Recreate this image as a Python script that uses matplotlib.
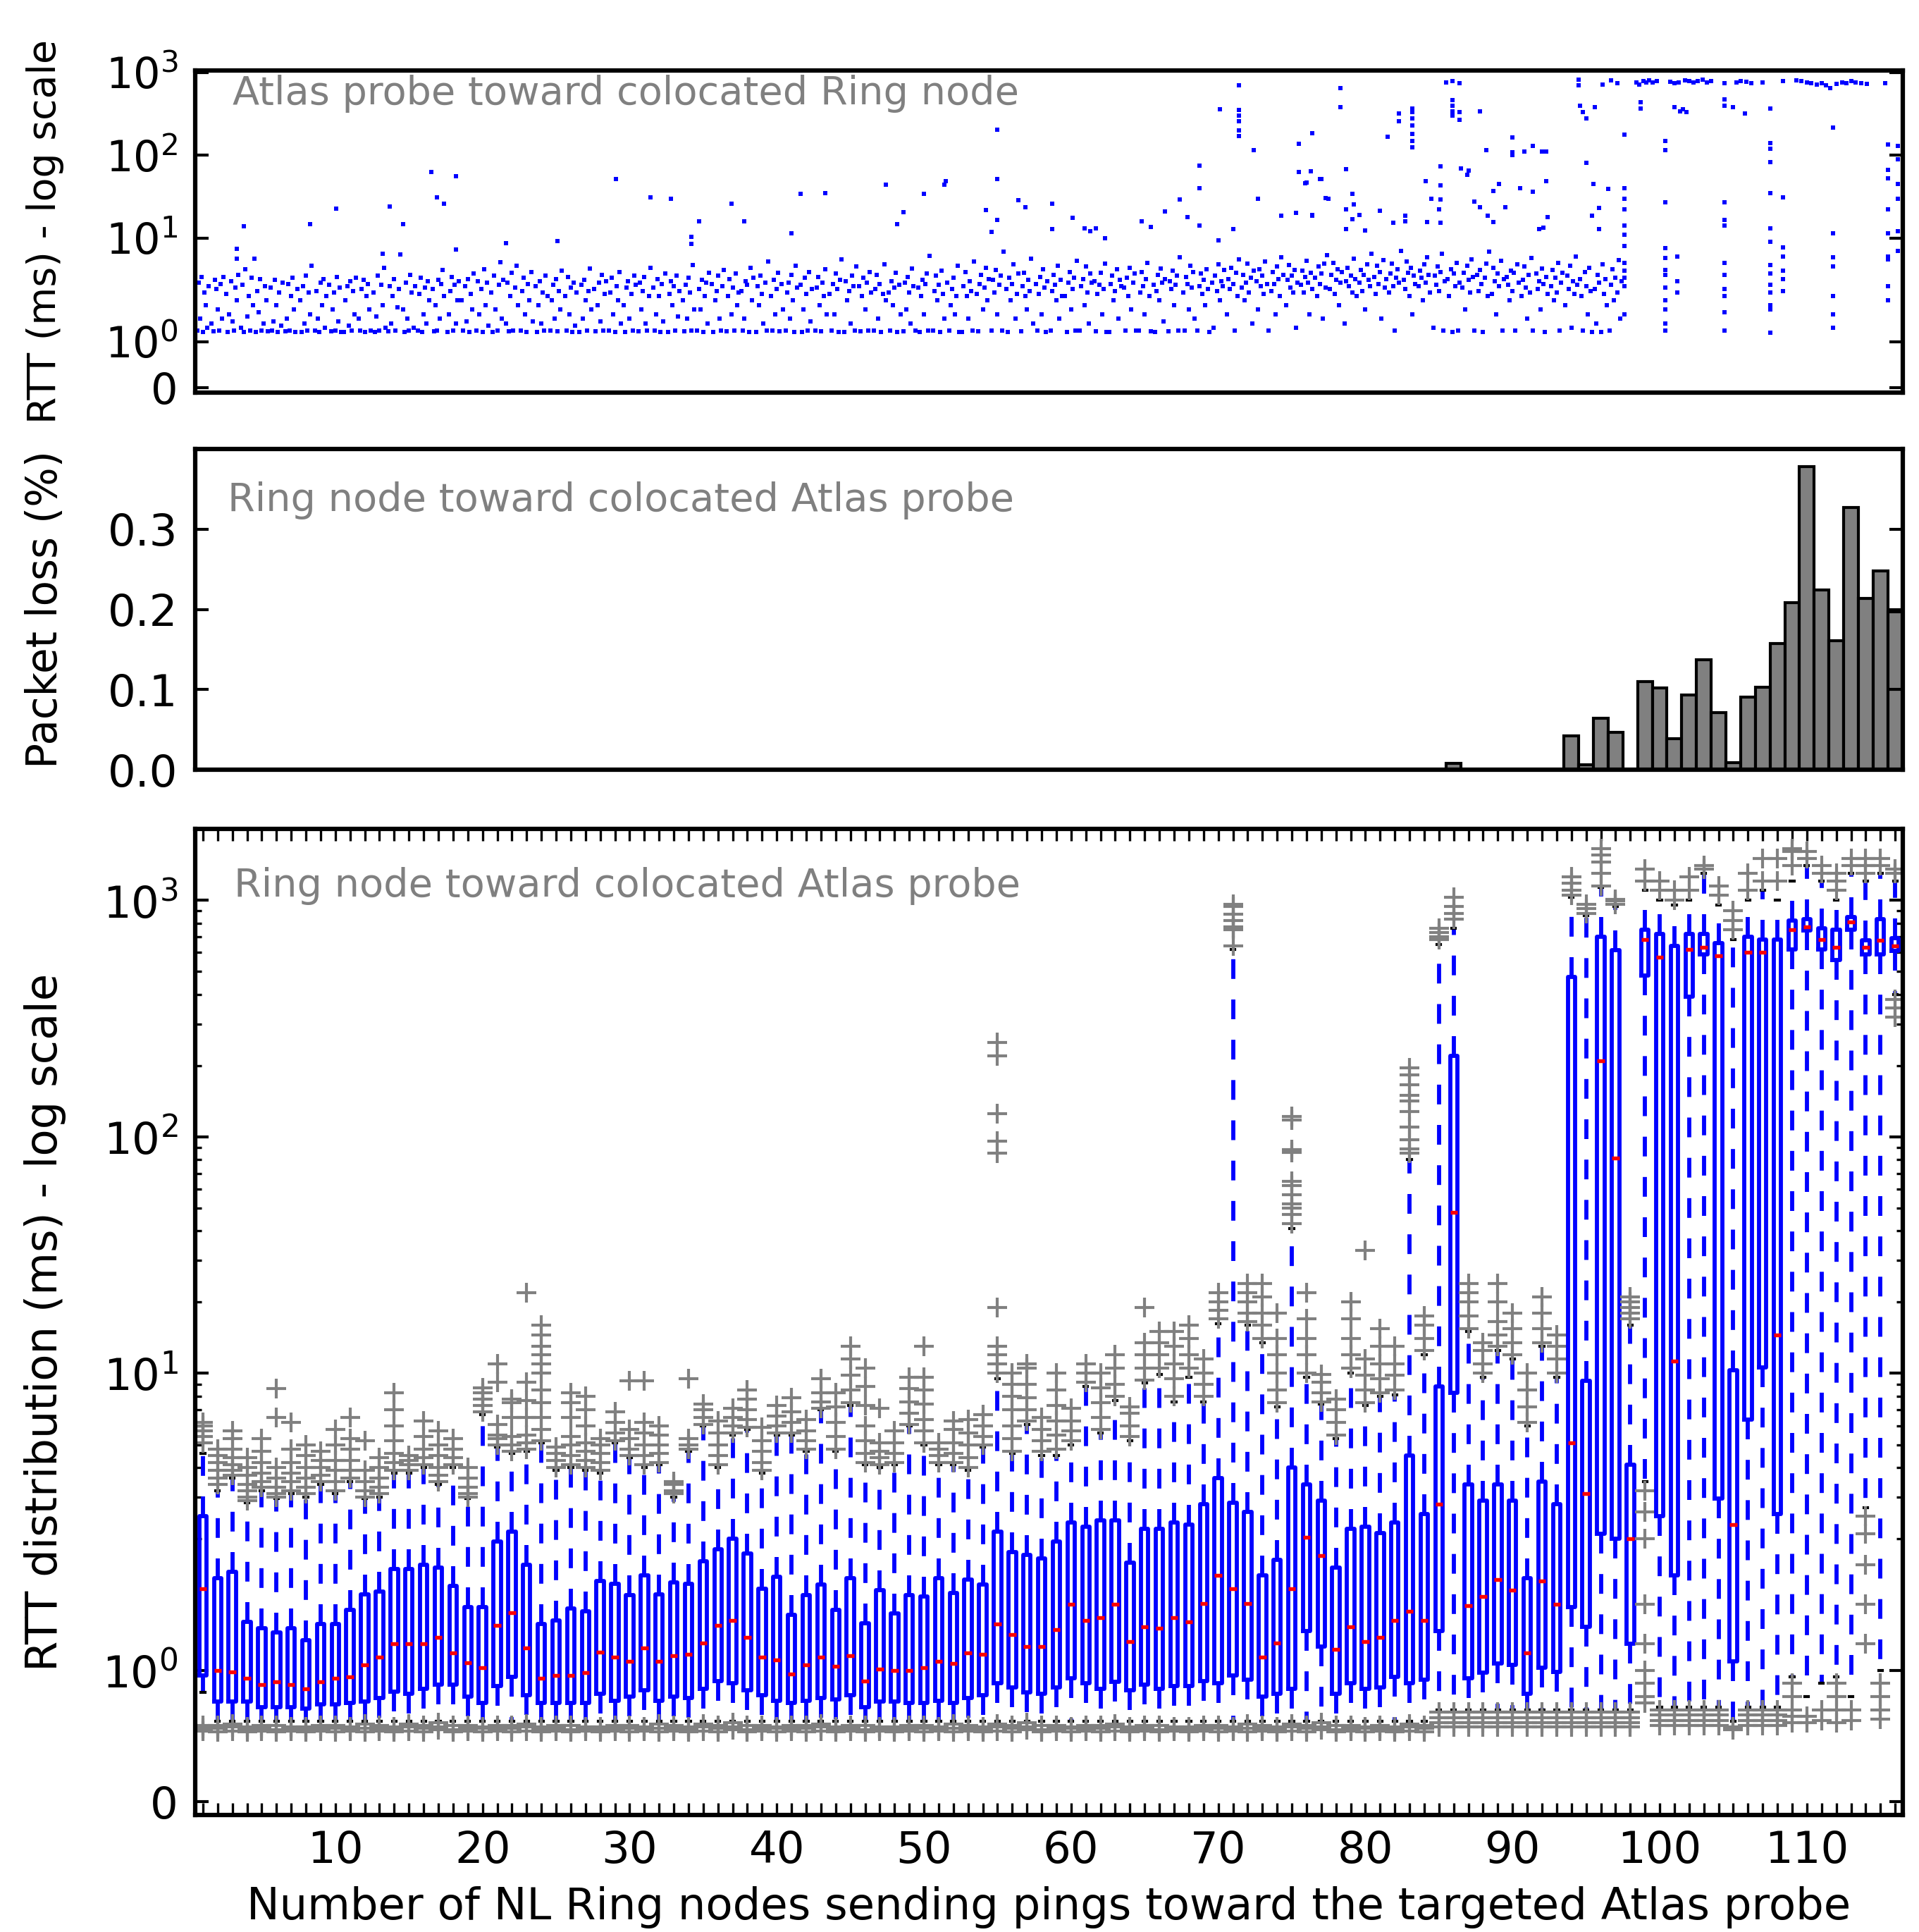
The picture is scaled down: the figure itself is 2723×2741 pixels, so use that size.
import matplotlib
matplotlib.use('Agg')
import matplotlib.pyplot as plt

# ---------------- top panel: Atlas probe -> Ring node RTT (ms) ----------------
# dense band, one list per node count 1..97
band_cols = [
    [1.25, 2.9, 1.5, 3.4, 1.22, 2.2, 1.8, 1.3, 2.6],
    [1.4, 1.23, 3.1, 2.4, 1.7, 1.25, 2.8, 1.5, 3.4],
    [2.1, 1.22, 1.6, 3.0, 1.45, 1.24, 2.5, 1.9, 3.6],
    [1.3, 2.7, 1.22, 4.2, 1.55, 2.0, 1.25, 3.3, 1.8],
    [1.22, 2.3, 1.65, 3.2, 1.25, 1.4, 2.6, 1.9, 1.23],
    [2.5, 1.24, 1.45, 3.1, 1.8, 1.22, 2.2, 1.35, 2.9],
    [1.23, 1.5, 2.8, 1.25, 2.0, 3.3, 1.7, 1.22, 2.4],
    [1.9, 1.22, 2.6, 1.4, 3.5, 1.25, 2.2, 1.6, 4.6],
    [1.24, 2.3, 1.5, 1.22, 2.9, 1.8, 3.2, 1.3, 2.0],
    [2.7, 1.23, 1.7, 2.2, 1.25, 3.4, 1.45, 2.5, 1.22],
    [1.22, 1.9, 2.6, 1.35, 3.0, 1.25, 2.3, 1.6, 3.3],
    [1.5, 1.24, 2.4, 3.1, 1.22, 2.0, 2.8, 1.7, 1.25],
    [2.2, 1.22, 1.55, 3.5, 1.25, 2.7, 1.8, 4.4, 1.3],
    [1.23, 2.6, 1.4, 2.0, 3.2, 1.25, 1.75, 2.4, 6.3],
    [1.7, 1.22, 2.9, 1.5, 1.24, 3.6, 2.2, 1.3, 2.6],
    [1.25, 2.1, 3.3, 1.22, 1.6, 2.5, 1.4, 3.0, 1.9],
    [2.4, 1.23, 1.8, 1.25, 3.1, 1.5, 2.8, 4.1, 2.0],
    [1.22, 1.6, 2.3, 3.4, 1.25, 2.7, 1.4, 1.9, 3.0],
    [1.9, 1.24, 2.6, 1.45, 3.2, 1.22, 2.1, 1.7, 3.7],
    [1.25, 3.0, 1.6, 2.4, 1.22, 4.2, 1.8, 2.9, 1.35],
    [2.2, 1.22, 3.5, 1.7, 1.24, 2.7, 5.1, 1.5, 3.1],
    [1.4, 2.9, 1.23, 2.0, 3.8, 1.25, 2.5, 4.6, 1.8],
    [1.24, 2.3, 3.3, 1.6, 1.22, 2.8, 1.9, 3.9, 1.45],
    [2.6, 1.22, 1.8, 3.0, 1.4, 2.2, 1.25, 3.5, 2.0],
    [1.25, 1.9, 2.7, 1.5, 3.2, 1.23, 2.3, 1.7, 4.0],
    [2.0, 1.24, 3.4, 1.6, 2.5, 1.22, 2.9, 1.35, 2.2],
    [1.22, 2.7, 1.5, 3.1, 1.9, 1.25, 2.3, 4.3, 1.7],
    [2.4, 1.23, 1.8, 2.9, 1.45, 3.6, 1.25, 2.1, 3.0],
    [1.25, 2.2, 3.3, 1.6, 1.22, 2.6, 1.9, 3.9, 1.4],
    [1.8, 1.22, 2.5, 3.0, 1.5, 2.1, 1.24, 3.5, 2.7],
    [1.23, 2.9, 1.7, 2.3, 3.4, 1.4, 1.25, 2.0, 4.4],
    [2.5, 1.25, 1.6, 3.2, 2.0, 1.22, 2.8, 1.45, 3.7],
    [1.22, 2.1, 3.0, 1.8, 2.6, 1.24, 3.5, 1.55, 2.3],
    [1.9, 1.23, 2.7, 1.5, 3.3, 2.2, 1.25, 4.7, 1.7],
    [1.25, 2.4, 1.7, 3.1, 1.22, 2.0, 2.9, 1.4, 3.8],
    [2.8, 1.22, 1.9, 2.3, 3.5, 1.5, 1.24, 2.6, 4.1],
    [1.23, 2.0, 3.2, 1.6, 2.5, 1.25, 3.7, 1.8, 2.2],
    [2.3, 1.24, 1.5, 3.0, 2.7, 1.22, 4.4, 1.9, 3.3],
    [1.22, 2.6, 1.8, 3.5, 2.1, 1.4, 2.9, 1.25, 5.2],
    [2.0, 1.25, 3.1, 1.6, 2.4, 3.8, 1.23, 2.8, 1.7],
    [1.24, 2.2, 2.9, 1.5, 3.6, 1.9, 1.22, 4.6, 2.5],
    [2.7, 1.22, 1.7, 3.3, 2.1, 1.25, 3.9, 1.45, 2.4],
    [1.25, 2.5, 3.4, 1.8, 1.23, 2.9, 2.0, 4.2, 1.6],
    [2.1, 1.24, 2.8, 1.6, 3.7, 2.4, 1.22, 3.1, 5.5],
    [1.22, 3.0, 1.9, 2.3, 1.4, 3.5, 2.6, 1.25, 4.5],
    [2.6, 1.23, 2.0, 3.3, 1.7, 2.9, 1.25, 3.9, 2.2],
    [1.25, 2.4, 3.6, 1.5, 2.8, 1.22, 2.1, 4.8, 1.9],
    [2.2, 1.24, 3.0, 1.8, 2.5, 3.8, 1.22, 2.7, 1.6],
    [1.23, 2.9, 1.7, 3.4, 2.2, 1.4, 4.3, 2.6, 1.25],
    [2.5, 1.22, 2.0, 3.1, 1.6, 2.8, 3.7, 1.25, 6.1],
    [1.24, 2.3, 3.5, 1.9, 2.7, 1.22, 4.0, 2.1, 1.5],
    [2.9, 1.25, 1.8, 2.4, 3.3, 1.6, 2.0, 4.6, 1.22],
    [1.22, 2.6, 3.9, 2.0, 1.5, 3.0, 2.3, 1.25, 5.2],
    [2.1, 1.23, 2.8, 3.6, 1.7, 2.5, 4.4, 1.9, 3.2],
    [1.25, 3.1, 2.2, 4.1, 1.6, 2.7, 3.5, 1.24, 6.8],
    [2.4, 1.22, 3.3, 1.9, 2.8, 4.8, 1.5, 2.1, 3.7],
    [1.23, 2.6, 3.8, 2.0, 1.7, 3.1, 2.3, 5.6, 1.4],
    [2.8, 1.25, 2.1, 3.4, 1.6, 4.2, 2.5, 1.22, 3.0],
    [1.24, 2.3, 3.6, 2.7, 1.9, 4.6, 1.5, 3.1, 2.0],
    [2.0, 1.22, 2.9, 3.9, 1.7, 2.4, 3.3, 1.25, 5.3],
    [1.25, 2.6, 3.2, 1.8, 4.5, 2.2, 1.4, 3.7, 2.9],
    [3.0, 1.23, 2.1, 2.7, 3.8, 1.6, 2.4, 4.9, 1.22],
    [1.22, 2.8, 3.5, 1.9, 2.3, 4.2, 1.5, 3.1, 2.6],
    [2.5, 1.24, 3.3, 2.0, 4.4, 1.7, 2.9, 3.7, 1.25],
    [1.25, 2.2, 3.9, 2.6, 1.6, 3.2, 5.0, 2.0, 1.23],
    [2.7, 1.22, 2.3, 3.6, 1.9, 4.3, 2.9, 1.45, 3.2],
    [1.23, 3.0, 2.4, 4.0, 1.8, 2.7, 3.5, 1.25, 5.9],
    [2.2, 1.25, 3.4, 2.8, 1.7, 4.6, 2.5, 3.9, 1.5],
    [1.24, 2.6, 3.7, 2.1, 3.1, 1.8, 4.2, 2.4, 1.22],
    [2.9, 1.3, 3.5, 2.3, 4.8, 1.9, 3.0, 2.6, 4.1],
    [1.6, 3.2, 2.4, 4.4, 2.8, 1.25, 3.8, 2.0, 5.5],
    [2.5, 3.6, 1.9, 2.9, 4.9, 2.2, 3.3, 1.4, 4.0],
    [3.0, 1.7, 4.2, 2.6, 3.5, 2.1, 5.2, 2.8, 1.25],
    [2.3, 3.9, 2.8, 1.6, 4.5, 3.2, 2.0, 5.8, 3.6],
    [1.8, 3.1, 4.7, 2.5, 3.5, 2.2, 4.1, 1.3, 2.9],
    [2.7, 4.0, 2.2, 3.4, 5.3, 2.9, 1.6, 3.8, 2.4],
    [3.3, 2.0, 4.5, 2.8, 3.7, 1.5, 4.9, 2.5, 6.2],
    [2.4, 3.6, 5.0, 2.1, 3.1, 4.2, 1.8, 2.9, 3.9],
    [1.4, 3.0, 4.4, 2.6, 3.5, 2.2, 5.6, 3.2, 2.0],
    [2.9, 4.1, 2.3, 3.6, 1.7, 4.8, 3.1, 2.6, 6.5],
    [3.4, 2.1, 4.6, 2.8, 3.9, 1.5, 5.4, 2.5, 3.2],
    [2.2, 3.7, 4.9, 2.6, 1.25, 3.3, 4.2, 2.9, 7.0],
    [3.1, 2.4, 5.2, 3.8, 2.0, 4.4, 1.6, 3.5, 2.8],
    [2.6, 4.0, 3.3, 1.9, 4.8, 2.9, 5.9, 3.6, 2.2],
    [1.3, 3.5, 2.7, 4.5, 2.3, 3.9, 6.4, 1.25, 3.0],
    [3.2, 2.0, 4.2, 1.22, 3.7, 2.6, 5.0, 1.24, 2.9],
    [2.5, 3.8, 1.7, 4.6, 3.1, 2.2, 5.5, 3.4, 1.25],
    [3.6, 2.3, 4.1, 2.8, 1.22, 3.3, 4.9, 2.0, 6.8],
    [2.1, 4.4, 3.0, 1.6, 3.7, 2.6, 5.3, 1.25, 3.2],
    [3.4, 2.7, 1.9, 4.0, 2.3, 3.8, 1.24, 4.8, 2.9],
    [2.0, 3.1, 4.5, 2.5, 1.5, 3.6, 2.2, 5.7, 1.25],
    [3.7, 2.4, 3.0, 1.7, 4.3, 2.8, 1.22, 3.4, 2.1],
    [2.6, 4.1, 1.9, 3.3, 2.2, 5.0, 1.25, 2.9, 3.8],
    [1.8, 3.5, 2.4, 4.6, 1.3, 3.0, 2.1, 6.0, 2.7],
    [3.2, 2.0, 1.25, 3.9, 2.6, 1.6, 4.4, 2.3, 1.22],
    [2.4, 1.4, 3.6, 2.9, 1.22, 4.8, 2.1, 3.2, 1.8],
    [1.25, 2.7, 4.2, 1.9, 3.3, 2.2, 5.4, 1.5, 3.0],
]

# isolated vertical columns of samples at the right end
sparse_x = [97.6, 100.4, 101.2, 104.4, 107.5, 108.4, 111.8, 115.5, 116.2]
sparse_y = [
    [176, 40, 30, 22, 14, 11, 8, 5, 4, 3.3, 2.6, 1.6],
    [150, 115, 27, 7.5, 5.7, 4.1, 3.6, 2.5, 1.9, 1.7, 1.4, 1.25],
    [3.0, 6.0, 2.2],
    [470, 400, 27, 16.5, 14, 5, 3.6, 2.4, 2.0, 1.65, 1.25],
    [370, 140, 120, 83, 35, 13, 9, 4.7, 3.7, 2.7, 2.2, 1.8, 1.7, 1.2],
    [31, 7.7, 6, 4, 3.2, 2.3],
    [215, 11.5, 5.9, 4.5, 2, 1.6, 1.3],
    [135, 66, 53, 22, 11.5, 6, 5.5, 2.6, 1.9],
    [130, 90, 45, 30, 12, 7],
]

# scattered high samples (node count, RTT ms)
out_x = [3.8, 3.3, 3.3, 4.5, 8.3, 10.05, 13.7, 14.6, 16.5, 16.9, 17.4, 18.2, 18.2, 13.2, 21.6,
         25.1, 29.05, 31.4, 32.8, 34.7, 34.2, 34.2, 36.9, 37.8, 41.0, 41.6, 43.3, 47.4, 48.2, 48.6,
         50.0, 51.5, 51.4, 55.0, 55.0, 55.0, 54.6, 54.2, 56.4, 56.9, 58.7, 58.7, 68.7, 68.7, 70.1,
         71.4, 71.4, 71.4, 71.4, 71.4, 71.4, 72.4, 70.0, 75.5, 76.4, 75.5, 76.0, 77.0, 72.7, 74.3,
         75.3, 76.4, 77.5, 66.4, 67.4, 67.9, 71.0, 68.7, 64.8, 65.4, 60.1, 60.9, 61.3, 61.7, 62.3,
         78.3, 78.3, 82.3, 82.3, 83.2, 83.2, 83.2, 83.2, 83.2, 83.2, 83.2, 85.9, 85.9, 85.9, 85.9,
         86.4, 86.4, 87.8, 81.5, 88.2, 90.0, 90.0, 90.0, 90.8, 91.4, 92.0, 92.3, 95.0, 94.6, 94.8,
         95.0, 95.6, 98.7, 98.7, 101.0, 101.4, 101.8, 101.6, 105.0, 105.8,
         76.3, 76.9, 75.9, 78.7, 77.3, 79.1, 79.2, 78.7, 79.6, 79.1, 76.4, 78.7, 80.0, 81.0, 81.9,
         82.7, 82.7, 84.1, 85.1, 85.1, 84.5, 85.1, 85.0, 85.1, 84.2, 86.5, 87.0, 86.9, 87.4, 87.8,
         88.3, 88.7, 89.1, 88.7, 89.5, 90.5, 91.4, 92.3, 92.4, 92.1, 91.8, 95.5, 96.5, 95.4, 95.9,
         95.9]
out_y = [13.9, 7.4, 5.6, 5.6, 14.6, 22.7, 24.1, 14.6, 63, 31, 26, 56, 7.3, 6.5, 8.6,
         9.2, 52, 31, 30, 16, 10.3, 8.5, 26, 16, 11.3, 34, 35, 44, 14.6, 20.4,
         34, 49, 44, 203, 52, 16.5, 11.9, 21.6, 28.4, 23.7, 26, 12.7, 75, 40, 358,
         698, 350, 300, 260, 200, 170, 116, 9.3, 138, 183, 63, 47, 52, 30, 18.6,
         20, 19, 30, 21, 29, 18, 12.7, 14, 16, 13.5, 17.5, 13, 12, 13, 10,
         653, 378, 320, 260, 370, 330, 280, 230, 180, 150, 125, 460, 400, 340, 300,
         330, 270, 340, 166, 115, 165, 108, 100, 110, 130, 110, 110, 81, 400, 330,
         280, 380, 440, 370, 380, 340, 330, 360, 380, 320,
         64, 52, 46, 68, 30.6, 34, 25.6, 22, 19, 16.9, 18.5, 12.7, 12.3, 21.5, 15.3,
         18.5, 16, 49, 73, 43, 29.5, 29, 22, 15.3, 15.6, 69, 65, 58, 27.6, 23.5,
         18.5, 15.6, 44.6, 37, 23.5, 40, 36.5, 49, 18, 13.4, 12.9, 45, 39, 18.5, 23,
         12.9]

# samples near the 1 s ceiling
ceil_x = [85.5, 85.9, 86.4, 94.5, 94.5, 96.1, 96.7, 97.1, 98.4, 98.6, 98.9, 99.1, 99.3, 99.5,
          99.8, 100.7, 101.0, 101.3, 101.7, 102.0, 102.3, 102.6, 102.9, 103.2, 103.5, 104.4,
          105.2, 105.5, 105.9, 106.2, 107.0, 108.4, 109.3, 109.6, 110.0, 110.3, 110.7, 111.0,
          111.3, 111.6, 112.0, 112.4, 112.7, 113.0, 113.3, 113.7, 114.1, 115.3]
ceil_y = [760, 780, 740, 820, 700, 720, 800, 740, 750, 720, 780, 760, 800, 760,
          790, 770, 740, 760, 800, 780, 750, 790, 820, 760, 790, 740,
          760, 790, 770, 740, 750, 790, 800, 780, 760, 740, 720, 740,
          700, 650, 730, 760, 740, 780, 760, 740, 730, 740]

# ---------------- middle panel: packet loss ----------------
loss_nodes = [86, 94, 95, 96, 97, 99, 100, 101, 102, 103, 104, 105, 106, 107, 108, 109, 110,
              111, 112, 113, 114, 115, 116]
loss_pct = [0.008, 0.042, 0.006, 0.064, 0.047, 0.110, 0.102, 0.039, 0.093, 0.137, 0.071, 0.009,
            0.091, 0.103, 0.157, 0.208, 0.378, 0.224, 0.161, 0.327, 0.214, 0.248, 0.197]

# ---------------- bottom panel: RTT distribution per node count ----------------
nodes = list(range(1, 117))
box_q3 = [2.5, 1.7, 1.75, 1.37, 1.32, 1.29, 1.32, 1.23, 1.35, 1.35,
          1.46, 1.58, 1.6, 1.77, 1.77, 1.8, 1.78, 1.64, 1.48, 1.48,
          1.98, 2.15, 1.8, 1.35, 1.38, 1.47, 1.45, 1.68, 1.66, 1.57,
          1.72, 1.58, 1.67, 1.66, 1.83, 1.92, 2.0, 1.89, 1.62, 1.71,
          1.42, 1.57, 1.65, 1.46, 1.7, 1.36, 1.61, 1.43, 1.57, 1.56,
          1.7, 1.59, 1.69, 1.65, 2.15, 1.9, 1.88, 1.85, 1.98, 2.35,
          2.25, 2.4, 2.4, 1.82, 2.2, 2.2, 2.35, 2.3, 2.8, 3.6,
          2.85, 2.6, 1.72, 1.84, 4.0, 3.4, 2.9, 1.78, 2.2, 2.25,
          2.12, 2.35, 4.5, 2.55, 8.8, 220, 3.4, 2.9, 3.4, 2.9,
          1.7, 3.5, 2.8, 475, 9.3, 700, 615, 4.1, 750, 720,
          640, 720, 720, 660, 10.3, 700, 680, 680, 820, 830,
          760, 750, 850, 675, 830, 690]
box_med = [1.62, 1.0, 0.99, 0.94, 0.89, 0.91, 0.89, 0.86, 0.91, 0.94,
           0.95, 1.04, 1.1, 1.2, 1.2, 1.2, 1.25, 1.13, 1.06, 1.02,
           1.34, 1.44, 1.17, 0.94, 0.96, 0.96, 0.98, 1.14, 1.1, 1.07,
           1.17, 1.07, 1.11, 1.12, 1.21, 1.34, 1.38, 1.25, 1.1, 1.08,
           0.97, 1.04, 1.1, 1.03, 1.11, 0.92, 1.01, 1.0, 1.0, 1.02,
           1.07, 1.05, 1.13, 1.12, 1.35, 1.27, 1.18, 1.18, 1.31, 1.5,
           1.38, 1.4, 1.5, 1.22, 1.33, 1.32, 1.4, 1.37, 1.51, 1.72,
           1.62, 1.51, 1.1, 1.21, 1.62, 2.03, 1.87, 1.16, 1.33, 1.22,
           1.25, 1.38, 1.45, 1.38, 2.8, 48, 1.49, 1.56, 1.69, 1.61,
           1.13, 1.68, 1.5, 5.1, 3.1, 210, 81, 2.0, 682, 575,
           11.3, 620, 630, 580, 2.3, 600, 600, 14.5, 750, 770,
           680, 630, 810, 630, 675, 640]
box_q1 = [0.96, 0.76, 0.76, 0.76, 0.72, 0.72, 0.72, 0.71, 0.74, 0.74,
          0.75, 0.76, 0.79, 0.84, 0.82, 0.86, 0.89, 0.89, 0.8, 0.75,
          0.88, 0.95, 0.81, 0.75, 0.75, 0.75, 0.75, 0.82, 0.77, 0.8,
          0.85, 0.77, 0.8, 0.79, 0.86, 0.92, 0.9, 0.85, 0.81, 0.77,
          0.75, 0.77, 0.79, 0.78, 0.81, 0.72, 0.76, 0.76, 0.75, 0.75,
          0.77, 0.75, 0.79, 0.81, 0.9, 0.87, 0.83, 0.82, 0.87, 0.94,
          0.9, 0.86, 0.91, 0.85, 0.89, 0.86, 0.88, 0.88, 0.92, 0.9,
          0.96, 0.93, 0.8, 0.82, 0.86, 1.3, 1.18, 0.82, 0.9, 0.86,
          0.87, 0.95, 0.9, 0.93, 1.3, 8.3, 0.94, 0.98, 1.05, 1.04,
          0.82, 1.02, 0.99, 1.48, 1.33, 2.1, 2.0, 1.2, 480, 2.5,
          1.72, 390, 590, 2.95, 1.07, 6.4, 10.6, 2.55, 620, 745,
          620, 560, 750, 590, 590, 610]
box_wlo = [0.83] + [0.61] * 83 + [0.7] * 14 + [3.5, 0.72, 0.72, 0.72, 0.72, 0.72, 0.61, 0.72,
                                                0.72, 0.72, 0.95, 0.8, 0.9, 0.95, 0.8, 2.7, 1.0, 400]
box_whi = [4.6, 3.2, 3.6, 2.85, 3.2, 2.95, 3.1, 3.0, 3.4, 3.1,
           3.5, 2.95, 3.0, 3.8, 3.8, 4.0, 3.4, 4.0, 2.95, 6.7,
           4.9, 4.6, 4.7, 5.1, 3.9, 4.0, 3.9, 3.8, 5.1, 4.4,
           4.0, 4.1, 3.0, 4.7, 6.0, 4.0, 5.5, 5.8, 3.8, 5.5,
           5.5, 4.7, 7.0, 4.7, 7.3, 4.1, 4.0, 4.1, 6.0, 5.0,
           4.1, 4.1, 3.9, 4.9, 9.5, 4.6, 6.1, 4.5, 4.5, 5.0,
           8.8, 5.6, 7.7, 5.2, 9.1, 9.9, 7.6, 9.6, 7.6, 16.2,
           620, 16, 13.5, 7.2, 41, 9.6, 7.4, 5.3, 10, 7.3,
           8, 8.1, 80, 12, 650, 760, 15, 9.6, 12.5, 11.5,
           6, 13, 9.6, 1030, 860, 1130, 940, 16, 1100, 1000,
           950, 1000, 1300, 950, 680, 1000, 1100, 1000, 1200, 1400,
           1200, 1000, 1300, 1200, 1300, 1200]
fl_hi = [
    [5.1, 5.4, 5.7, 6.0, 6.2], [3.4, 3.6, 3.9, 4.2, 4.5, 4.8], [3.7, 3.9, 4.1, 4.4, 4.8, 5.3, 5.7],
    [2.9, 3.0, 3.2, 3.4, 3.7, 4.0, 4.4], [3.3, 3.5, 3.8, 4.2, 4.7, 5.3], [3.0, 3.1, 3.3, 3.6, 4.0, 6.5, 8.6],
    [3.2, 3.5, 3.8, 4.2, 4.8, 6.2], [3.1, 3.3, 3.6, 4.0, 4.5, 5.0], [3.5, 3.7, 4.0, 4.3, 4.7],
    [3.2, 3.5, 3.9, 4.3, 5.0, 5.8], [3.6, 3.9, 4.3, 4.8, 5.3, 6.5], [3.0, 3.2, 3.5, 3.9, 5.2],
    [3.1, 3.3, 3.6, 4.0, 4.4], [3.9, 4.2, 4.6, 5.2, 6.0, 7.0, 8.3], [3.9, 4.1, 4.3, 4.5],
    [4.1, 4.4, 4.8, 5.4, 6.3], [3.5, 3.7, 4.0, 4.5, 5.0, 5.7], [4.1, 4.4, 4.8, 5.3],
    [3.0, 3.1, 3.3, 3.6, 4.0], [6.9, 7.3, 7.8, 8.3, 8.7], [5.0, 5.3, 5.5, 6.1, 9.2, 11.0],
    [4.7, 5.0, 5.4, 6.5, 7.5, 7.8], [4.8, 5.1, 5.5, 6.5, 7.7, 9.2, 22],
    [5.2, 5.8, 6.5, 7.5, 8.5, 10, 11, 12, 13, 14.5, 16], [4.0, 4.3, 4.6, 4.9],
    [4.1, 4.5, 5.0, 5.4, 6.5, 7.5, 8.3], [4.0, 4.3, 4.7, 5.1, 6.0, 7.0, 8.0], [3.9, 4.2, 4.6, 5.0, 5.3],
    [5.2, 5.6, 6.2, 6.9], [4.5, 4.8, 5.3, 5.8, 9.3], [4.1, 4.5, 5.0, 5.6, 6.2, 9.3],
    [4.2, 4.6, 5.0, 5.5, 6.0], [3.1, 3.2, 3.4, 3.5], [4.8, 5.0, 5.3, 9.5], [6.1, 6.5, 7.0, 7.4],
    [4.1, 4.5, 5.0, 5.6, 6.3], [5.6, 6.0, 6.5, 7.1], [5.9, 6.4, 7.0, 7.8, 8.5],
    [3.9, 4.2, 4.7, 5.2, 5.9], [5.6, 6.0, 6.6, 7.3], [5.6, 6.2, 6.9, 7.9], [4.8, 5.2, 5.7, 6.4],
    [7.1, 7.6, 8.3, 9.5], [4.8, 5.4, 6.2, 7.2, 8.3], [7.5, 8.5, 9.8, 11.5, 13],
    [4.2, 4.6, 5.2, 6.0, 7.3, 8.8, 10.5], [4.1, 4.4, 4.7, 5.1, 7.1], [4.2, 4.6, 5.1, 5.7],
    [6.1, 6.8, 7.6, 8.6, 9.6], [5.1, 5.7, 6.4, 7.4, 8.5, 9.6, 13], [4.2, 4.5, 4.8, 5.1],
    [4.2, 4.6, 5.1, 5.8, 6.3], [4.0, 4.4, 5.0, 5.6, 6.4], [5.0, 5.4, 6.0, 6.7],
    [10, 11, 12, 13, 19, 85, 96, 125, 220, 250], [4.7, 5.3, 6.0, 7.0, 8.0, 9.0, 10],
    [6.3, 7.0, 7.9, 9.0, 10.5, 11], [4.7, 5.2, 5.8, 6.5], [4.8, 5.5, 6.3, 7.3, 8.5, 10],
    [5.2, 5.7, 6.3, 7.1], [9.2, 10, 11], [5.8, 6.5, 7.5, 8.7, 10], [8, 9, 10.5, 12],
    [5.4, 6.0, 6.8, 7.2], [9.4, 10.5, 12, 13.5, 19], [10.5, 12, 13.5, 15], [8, 9.5, 11, 13, 15],
    [10.5, 12, 14, 16], [8, 9, 10, 11.5], [17, 18.5, 20, 22],
    [640, 750, 760, 770, 820, 870, 940, 960], [16.5, 18, 20, 22, 24], [14, 16, 18, 21, 24],
    [7.5, 8.5, 10, 12, 14, 18], [43, 47, 50, 52, 57, 62, 65, 86, 88, 118, 122],
    [10, 12, 14, 17, 22], [7.6, 8.3, 9.2, 9.9], [5.5, 6.2, 7.0, 7.8], [10.5, 12, 14, 17, 20],
    [7.5, 8.5, 9.8, 11.5, 33], [8.3, 9.5, 11, 13, 15.5], [8.5, 9.8, 11, 13],
    [85, 89, 97, 110, 128, 142, 150, 166, 183, 196], [12.5, 14, 16, 17.5], [680, 700, 730, 760],
    [830, 880, 940, 1030], [15.5, 17.5, 20, 22, 24], [10, 11, 12.5, 13.5], [13, 14.5, 16.5, 20, 24],
    [12, 13.5, 15.5, 18], [6.2, 7.2, 8.5, 10], [13.5, 15.5, 18, 21], [10, 11.5, 13, 14.5],
    [1050, 1100, 1180, 1250], [880, 920, 960], [1150, 1300, 1450, 1550, 1650], [960, 990, 1010],
    [17, 18, 19, 20, 21], [1200, 1350], [1100, 1200], [1000, 1100], [1100, 1250], [1350, 1400],
    [1050, 1150], [750, 820, 900], [1100, 1300], [1200, 1500], [1200, 1500], [1400, 1600, 1650],
    [1500, 1600], [1300, 1400], [1100, 1200, 1300], [1400, 1500], [1300, 1400, 1500],
    [1400, 1500], [1300, 1350],
]
fl_lo = (
    [[0.54, 0.56, 0.58], [0.53, 0.56, 0.58], [0.54, 0.57, 0.59], [0.53, 0.55, 0.57],
     [0.54, 0.56, 0.58], [0.53, 0.55, 0.58], [0.54, 0.56, 0.57], [0.53, 0.55, 0.57],
     [0.54, 0.56, 0.58], [0.53, 0.56, 0.58], [0.54, 0.55, 0.57], [0.53, 0.56, 0.59],
     [0.54, 0.56, 0.58], [0.53, 0.55, 0.57], [0.54, 0.57, 0.59], [0.53, 0.56, 0.58],
     [0.55, 0.57, 0.6], [0.53, 0.55, 0.58], [0.54, 0.56, 0.58], [0.53, 0.56, 0.57]] * 4
    + [[0.54, 0.56, 0.58], [0.53, 0.55, 0.57], [0.54, 0.57, 0.59], [0.53, 0.56, 0.58]]
    + [[0.57, 0.6, 0.64, 0.68]] * 14
    + [[0.75, 0.8, 0.9, 1.0, 1.2, 1.5, 2.0, 2.6, 3.2],
       [0.58, 0.62, 0.66, 0.7], [0.58, 0.62, 0.66, 0.7], [0.58, 0.62, 0.66, 0.7],
       [0.58, 0.62, 0.66, 0.7], [0.58, 0.62, 0.66, 0.7], [0.55, 0.57],
       [0.58, 0.62, 0.66, 0.7], [0.58, 0.62, 0.66, 0.7], [0.58, 0.62, 0.66, 0.7],
       [0.6, 0.65, 0.7, 0.8, 0.9], [0.6, 0.65], [0.62, 0.7], [0.6, 0.7, 0.8, 0.9], [0.62, 0.7],
       [1.2, 1.5, 1.8, 2.1, 2.5], [0.63, 0.7, 0.8, 0.9], [320, 350, 380]]
)

# ---------------- figure ----------------
plt.rcParams['font.family'] = 'DejaVu Sans'
plt.rcParams['mathtext.fontset'] = 'dejavusans'

fig = plt.figure(figsize=(2723 / 300, 2741 / 300), dpi=300)
L, W = 0.1019, 0.8895
ax1 = fig.add_axes([L, 0.7969, W, 0.1665])
ax2 = fig.add_axes([L, 0.6016, W, 0.1660])
ax3 = fig.add_axes([L, 0.0606, W, 0.5104])

for ax in (ax1, ax2, ax3):
    ax.set_xlim(0.5, 116.5)
    for s in ax.spines.values():
        s.set_linewidth(1.5)

# top scatter
xs, ys = [], []
for i, col in enumerate(band_cols):
    c = i + 1
    n = len(col)
    for j, v in enumerate(col):
        xs.append(c - 0.45 + 0.9 * (j + 0.5) / n)
        ys.append(v)
for cx, vals in zip(sparse_x, sparse_y):
    xs += [cx] * len(vals)
    ys += vals
xs += out_x + ceil_x
ys += out_y + ceil_y
ax1.plot(xs, ys, 's', color='blue', ms=1.3, mew=0)
ax1.set_yscale('symlog', linthresh=2, linscale=1)
ax1.set_ylim(-0.1, 1050)
ax1.set_yticks([0, 1, 10, 100, 1000], ['0', '$10^0$', '$10^1$', '$10^2$', '$10^3$'])
ax1.yaxis.set_minor_locator(plt.NullLocator())
ax1.set_xticks([])
ax1.tick_params(axis='y', which='major', direction='in', left=True, right=True,
                length=4.5, width=1, labelsize=14.5, pad=6)
ax1.set_ylabel('RTT (ms) - log scale', fontsize=13.3, va='center')
ax1.yaxis.set_label_coords(-0.088, 0.5)
ax1.text(0.0216, 0.928, 'Atlas probe toward colocated Ring node', transform=ax1.transAxes,
         fontsize=13.4, color='gray', ha='left', va='center')

# middle bars
ax2.bar(loss_nodes, loss_pct, width=1, color='gray', edgecolor='black', linewidth=1.0)
ax2.set_ylim(0, 0.4)
ax2.set_yticks([0, 0.1, 0.2, 0.3], ['0.0', '0.1', '0.2', '0.3'])
ax2.set_xticks([])
ax2.tick_params(axis='y', direction='in', left=True, right=True, length=4.5, width=1,
                labelsize=15, pad=6)
ax2.set_ylabel('Packet loss (%)', fontsize=14.3, va='center')
ax2.yaxis.set_label_coords(-0.088, 0.5)
ax2.text(0.0187, 0.84, 'Ring node toward colocated Atlas probe', transform=ax2.transAxes,
         fontsize=13.4, color='gray', ha='left', va='center')

# bottom boxplots
stats = []
for i in range(len(nodes)):
    stats.append(dict(med=box_med[i], q1=box_q1[i], q3=box_q3[i],
                      whislo=box_wlo[i], whishi=box_whi[i],
                      fliers=fl_hi[i] + fl_lo[i]))
ax3.bxp(stats, positions=nodes, widths=0.5, manage_ticks=False,
        boxprops=dict(color='blue', linewidth=1.4),
        whiskerprops=dict(color='blue', linewidth=1.4, linestyle=(0, (4.8, 5))),
        capprops=dict(color='black', linewidth=1),
        medianprops=dict(color='red', linewidth=1.3),
        flierprops=dict(marker='+', markeredgecolor='gray', markersize=6.5,
                        markeredgewidth=1.0, linestyle='none'))
ax3.set_yscale('symlog', linthresh=2, linscale=1)
ax3.set_ylim(-0.1, 2000)
ax3.set_yticks([0, 1, 10, 100, 1000], ['0', '$10^0$', '$10^1$', '$10^2$', '$10^3$'])
ax3.set_yticks([2, 3, 4, 5, 6, 7, 8, 9, 20, 30, 40, 50, 60, 70, 80, 90,
                200, 300, 400, 500, 600, 700, 800, 900], minor=True)
ax3.set_xticks(nodes, [str(n) if n % 10 == 0 else '' for n in nodes])
ax3.tick_params(axis='y', which='major', direction='in', left=True, right=True,
                length=4.5, width=1, labelsize=15, pad=6)
ax3.tick_params(axis='y', which='minor', direction='in', left=True, right=True,
                length=2.2, width=0.8)
ax3.tick_params(axis='x', which='major', direction='in', bottom=True, top=True,
                length=4, width=0.8, labelsize=15, pad=5)
ax3.set_ylabel('RTT distribution (ms) - log scale', fontsize=15, va='center')
ax3.yaxis.set_label_coords(-0.088, 0.5)
ax3.set_xlabel('Number of NL Ring nodes sending pings toward the targeted Atlas probe',
               fontsize=15, va='center')
ax3.xaxis.set_label_coords(0.5, -0.094)
ax3.text(0.0225, 0.942, 'Ring node toward colocated Atlas probe', transform=ax3.transAxes,
         fontsize=13.4, color='gray', ha='left', va='center')

fig.savefig('out.png', dpi=300, facecolor='white')
